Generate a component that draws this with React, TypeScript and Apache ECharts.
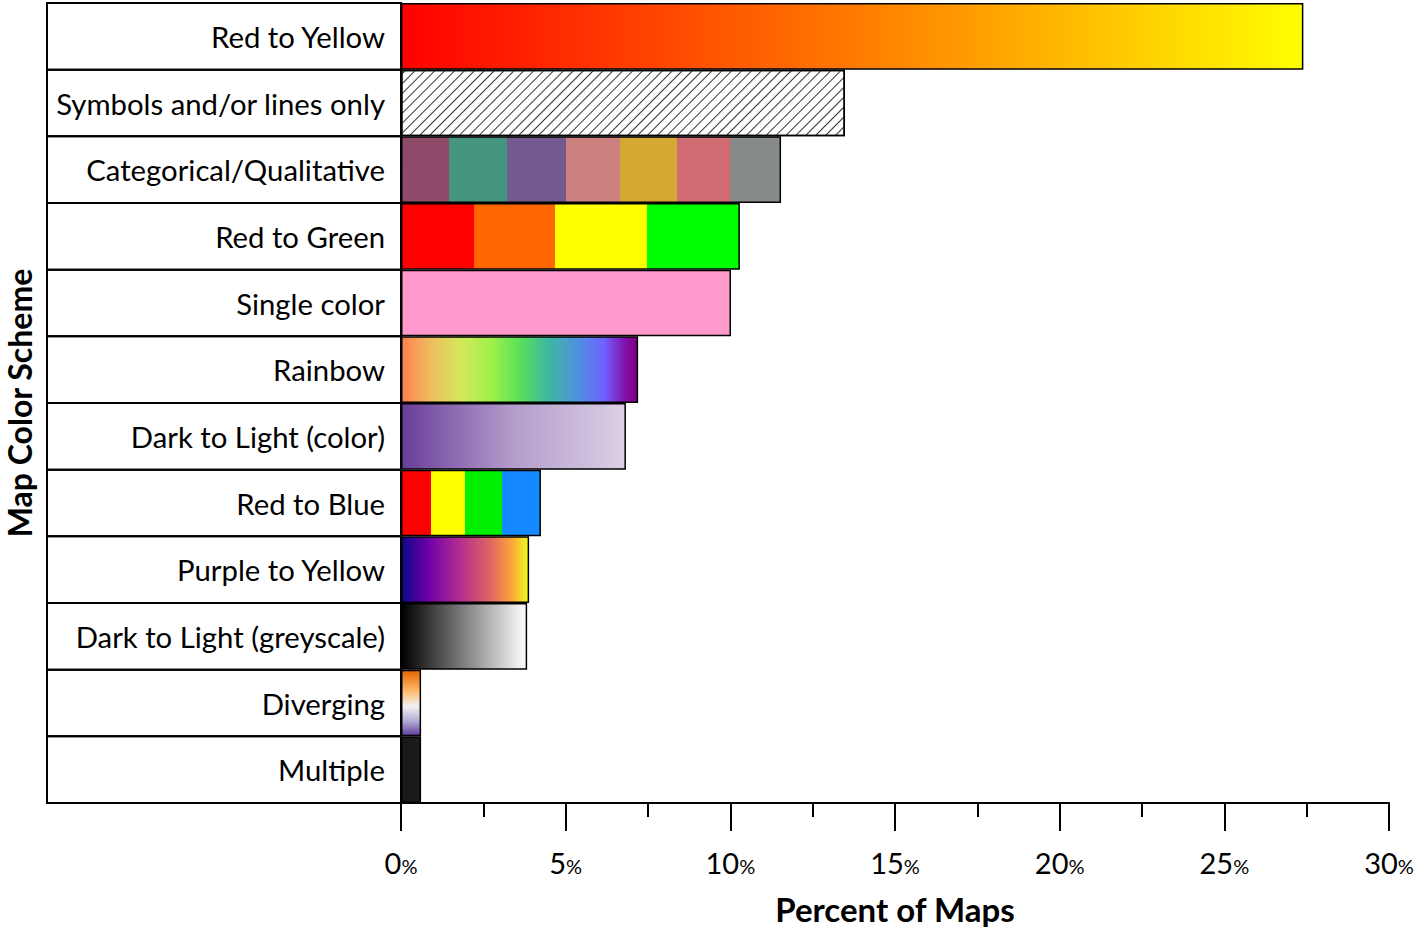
import React, { useEffect, useRef } from "react";
import * as echarts from "echarts";

const categories = [
  "Red to Yellow",
  "Symbols and/or lines only",
  "Categorical/Qualitative",
  "Red to Green",
  "Single color",
  "Rainbow",
  "Dark to Light (color)",
  "Red to Blue",
  "Purple to Yellow",
  "Dark to Light (greyscale)",
  "Diverging",
  "Multiple",
];

const percentOfMaps = [27.4, 13.48, 11.54, 10.29, 10.02, 7.2, 6.83, 4.25, 3.89, 3.83, 0.61, 0.61];

const xTickValues = [0, 5, 10, 15, 20, 25, 30];

// visual styling of each bar
const FONT = "Lato, 'Noto Sans', sans-serif";

function hardStops(colors: string[], bounds: number[]) {
  const edges = [0, ...bounds, 1];
  const stops: { offset: number; color: string }[] = [];
  colors.forEach((c, i) => {
    stops.push({ offset: edges[i], color: c });
    stops.push({ offset: edges[i + 1], color: c });
  });
  return new echarts.graphic.LinearGradient(0, 0, 1, 0, stops);
}

function smooth(colors: [number, string][], vertical = false) {
  return new echarts.graphic.LinearGradient(
    0,
    0,
    vertical ? 0 : 1,
    vertical ? 1 : 0,
    colors.map(([offset, color]) => ({ offset, color }))
  );
}

function buildFills(): any[] {
  return [
    smooth([
      [0, "#ff0000"],
      [0.5, "#ff7a00"],
      [1, "#ffff00"],
    ]),
    "#ffffff",
    hardStops(
      ["#8f4a6a", "#44947e", "#735a8e", "#cd8080", "#d3a932", "#d06b73", "#868a88"],
      [0.125, 0.277, 0.435, 0.576, 0.727, 0.868]
    ),
    hardStops(["#ff0000", "#ff6600", "#ffff00", "#00ff00"], [0.214, 0.455, 0.727]),
    "#ff99cc",
    smooth([
      [0, "#ff7f50"],
      [0.13, "#efc060"],
      [0.25, "#d4e85a"],
      [0.38, "#a0f04a"],
      [0.5, "#5ae05a"],
      [0.62, "#3cb8a0"],
      [0.75, "#5090e0"],
      [0.86, "#7060ff"],
      [0.95, "#8010a8"],
      [1, "#800080"],
    ]),
    smooth([
      [0, "#6a3d9a"],
      [0.5, "#b39dcb"],
      [1, "#dcd0e6"],
    ]),
    hardStops(["#ff0000", "#ffff00", "#00ee00", "#1589ff"], [0.214, 0.455, 0.727]),
    smooth([
      [0, "#0d0887"],
      [0.2, "#6a00a8"],
      [0.45, "#b12a90"],
      [0.7, "#e16462"],
      [0.87, "#fca636"],
      [1, "#f0f921"],
    ]),
    smooth([
      [0, "#000000"],
      [1, "#ffffff"],
    ]),
    smooth(
      [
        [0, "#e66101"],
        [0.3, "#fdb863"],
        [0.55, "#f2f0f2"],
        [0.78, "#b2abd2"],
        [1, "#5e3c99"],
      ],
      true
    ),
    "#1a1a1a",
  ];
}

export default function App() {
  const ref = useRef<HTMLDivElement>(null);

  useEffect(() => {
    if (!ref.current) return;
    const chart = echarts.init(ref.current, undefined, { renderer: "svg" });
    const fills = buildFills();

    const data = percentOfMaps.map((v, i) => {
      const item: any = {
        value: v,
        itemStyle: { color: fills[i], borderColor: "#000", borderWidth: 1.5 },
      };
      if (i === 1) {
        item.itemStyle.decal = {
          symbol: "rect",
          symbolSize: 1,
          dashArrayX: [[1, 0]],
          dashArrayY: [1, 5.5],
          rotation: -Math.PI / 4,
          color: "#333333",
        };
      }
      return item;
    });

    chart.setOption({
      animation: false,
      grid: {
        left: 401,
        right: 27,
        top: 3,
        bottom: 126,
        containLabel: false,
        outerBoundsMode: "none",
      },
      xAxis: {
        type: "value",
        min: 0,
        max: 30,
        interval: 5,
        name: "Percent of Maps",
        nameLocation: "middle",
        nameGap: 89,
        nameTextStyle: { fontFamily: FONT, fontSize: 33, fontWeight: "bold", color: "#000" },
        axisLine: { show: true, lineStyle: { color: "#000", width: 2 } },
        axisTick: { show: true, length: 28, lineStyle: { color: "#000", width: 2 } },
        minorTick: { show: true, splitNumber: 2, length: 14, lineStyle: { color: "#000", width: 2 } },
        splitLine: { show: false },
        axisLabel: {
          margin: 45,
          formatter: (v: number) => (xTickValues.includes(v) ? `{n|${v}}{p|%}` : ""),
          rich: {
            n: { fontFamily: FONT, fontSize: 29, color: "#000" },
            p: { fontFamily: FONT, fontSize: 20, color: "#000", padding: [7, 0, 0, 0] },
          },
        },
      },
      yAxis: {
        type: "category",
        data: categories,
        inverse: true,
        name: "Map Color Scheme",
        nameLocation: "middle",
        nameRotate: 90,
        nameGap: 366,
        nameTextStyle: {
          fontFamily: FONT,
          fontSize: 32,
          lineHeight: 32,
          fontWeight: "bold",
          color: "#000",
        },
        axisLine: { show: true, lineStyle: { color: "#000", width: 2 } },
        axisTick: { show: false },
        splitLine: { show: false },
        axisLabel: {
          interval: 0,
          margin: 0,
          width: 338,
          height: 66.67,
          padding: [0, 16, 0, 0],
          align: "right",
          verticalAlign: "middle",
          borderColor: "#000",
          borderWidth: 2,
          fontFamily: FONT,
          fontSize: 29.3,
          color: "#000",
          overflow: "none",
        },
      },
      series: [
        {
          type: "bar",
          data,
          barWidth: "100%",
          barCategoryGap: 0,
        },
      ],
    });

    return () => chart.dispose();
  }, []);

  return (
    <div
      ref={ref}
      style={{ position: "fixed", left: 0, top: 0, width: 1416, height: 929, background: "#fff" }}
    />
  );
}
